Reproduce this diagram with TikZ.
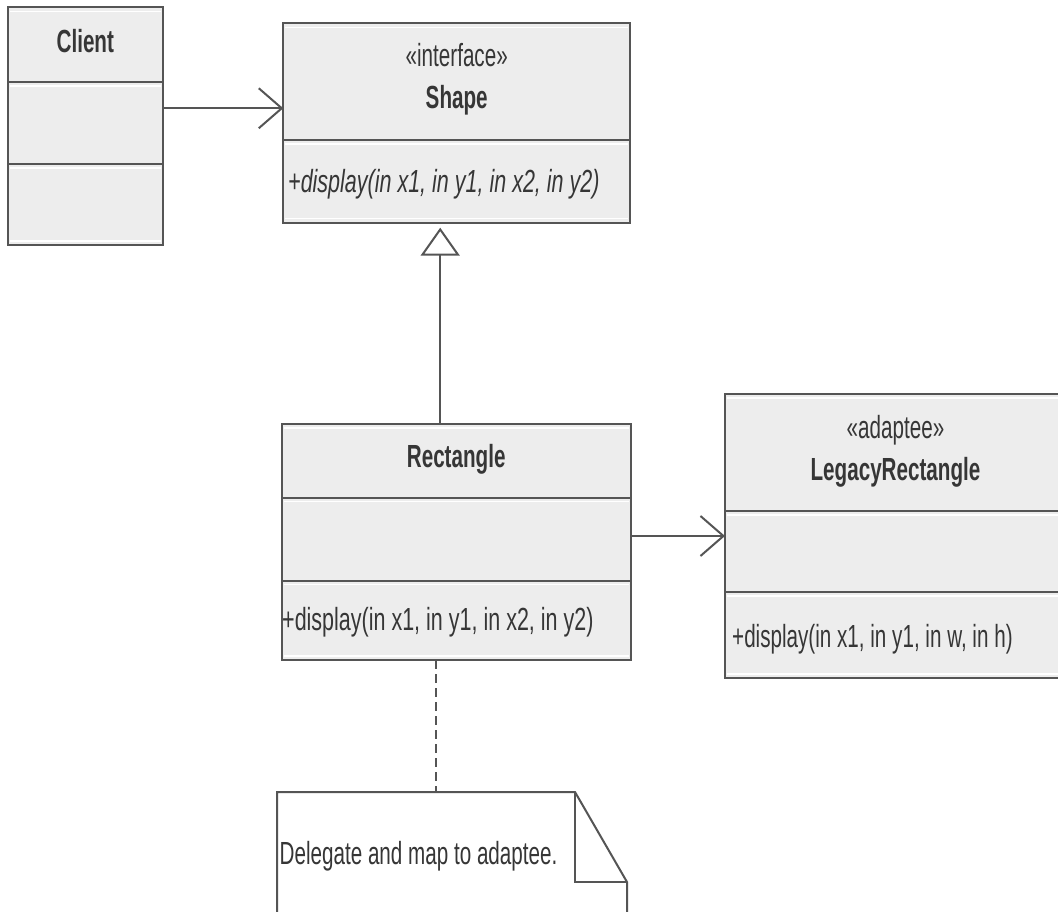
\documentclass[tikz,border=0pt]{standalone}
\usepackage{fontspec}
\setmainfont{Liberation Sans}[FakeStretch=0.645]
\newfontfamily\opfont{Liberation Sans}[FakeStretch=0.672]
\usetikzlibrary{arrows.meta}
\definecolor{umlfill}{HTML}{EDEDED}
\definecolor{umlline}{HTML}{555555}
\definecolor{umltext}{HTML}{363636}

% compartment rule #2 pt below the top of class box #1, with its light edge
\newcommand\umlrule[2]{%
  \draw[divider] ([yshift=-#2pt]#1.north west) -- ([yshift=-#2pt]#1.north east);
  \draw[shine] ([xshift=2pt,yshift=-#2pt-4pt]#1.north west) -- ([xshift=-2pt,yshift=-#2pt-4pt]#1.north east);}
% light edges under the top and over the bottom of class box #1
\newcommand\umledges[1]{%
  \draw[shine] ([xshift=2pt,yshift=-4pt]#1.north west) -- ([xshift=-2pt,yshift=-4pt]#1.north east);
  \draw[shine] ([xshift=2pt,yshift=4pt]#1.south west) -- ([xshift=-2pt,yshift=4pt]#1.south east);}

\begin{document}
\begin{tikzpicture}[x=1pt,y=-1pt,
  box/.style={draw=umlline, fill=umlfill, line width=2pt, rectangle,
    anchor=north west, inner sep=0pt, outer sep=0pt},
  divider/.style={draw=umlline, line width=2pt},
  shine/.style={draw=white, line width=1.2pt},
  txt/.style={anchor=base, inner sep=0pt, text=umltext,
    font=\fontsize{32}{32}\selectfont},
  ctitle/.style={txt, font=\fontsize{32}{32}\selectfont\bfseries},
  member/.style={txt, anchor=base west},
  widemember/.style={member, font=\fontsize{32}{32}\opfont},
  opital/.style={member, font=\fontsize{32}{32}\opfont\itshape},
  assoc/.style={draw=umlline, line width=2pt,
    -{Straight Barb[length=23pt,width=40pt]}},
  realize/.style={draw=umlline, line width=2pt,
    -{Triangle[open,length=28pt,width=39pt,fill=white]}, shorten >=5pt},
  anchorline/.style={draw=umlline, line width=2pt, dash pattern=on 9pt off 5pt},
  notebox/.style={draw=umlline, line width=2pt, line join=miter},
]
\clip (0,0) rectangle (1058,912);
\fill[white] (0,0) rectangle (1058,912);

% class boxes
\node[box, minimum width=155.5pt, minimum height=237.5pt] (client) at (7.5,7.5) {};
\node[box, minimum width=346.7pt, minimum height=199.4pt] (shape) at (283.3,23.3) {};
\node[box, minimum width=349pt, minimum height=236pt] (rect) at (281.7,424) {};
\node[box, minimum width=341pt, minimum height=284pt] (legacy) at (725,394) {};

\umledges{client}
\umledges{shape}
\umledges{rect}
\umledges{legacy}
\umlrule{client}{74.5}
\umlrule{client}{156.5}
\umlrule{shape}{116.7}
\umlrule{rect}{73.7}
\umlrule{rect}{156.7}
\umlrule{legacy}{117}
\umlrule{legacy}{198}

% note with folded corner
\node[anchor=north west, minimum width=350pt, minimum height=138pt,
  inner sep=0pt, outer sep=0pt] (note) at (277,792) {};
\fill[white] (note.south west) -- (note.north west) -- ([xshift=-52pt]note.north east)
  -- ([yshift=-90pt]note.north east) -- (note.south east) -- cycle;
\draw[notebox] (note.south west) -- (note.north west) -- ([xshift=-52pt]note.north east)
  -- ([yshift=-90pt]note.north east) -- (note.south east);
\draw[notebox] ([xshift=-52pt]note.north east) -- ([xshift=-52pt,yshift=-90pt]note.north east)
  -- ([yshift=-90pt]note.north east);

% texts
\node[ctitle] (clientname) at (85.3,53) {Client};
\node[txt] (shapest) at (456.7,67) {«interface»};
\node[ctitle] (shapename) at (456.7,109) {Shape};
\node[opital] (shapeop) at (288,193) {+display(in x1, in y1, in x2, in y2)};
\node[ctitle] (rectname) at (456.2,467) {Rectangle};
\node[widemember] (rectop) at (282,630) {+display(in x1, in y1, in x2, in y2)};
\node[txt] (legst) at (895.5,438) {«adaptee»};
\node[ctitle] (legname) at (895.5,480) {LegacyRectangle};
\node[member] (legop) at (732,647) {+display(in x1, in y1, in w, in h)};
\node[member] (notetext) at (279.5,864) {Delegate and map to adaptee.};

% connectors
\coordinate (ca) at ([yshift=18pt]client.east);
\draw[assoc] (ca) -- (ca -| shape.west);
\coordinate (rb) at ([yshift=6pt]rect.east);
\draw[assoc] (rb) -- (rb -| legacy.west);
\coordinate (ga) at ([xshift=-16pt]rect.north);
\draw[realize] (ga) -- (ga |- shape.south);
\coordinate (da) at ([xshift=-20pt]rect.south);
\draw[anchorline] (da) -- (da |- note.north);
\end{tikzpicture}
\end{document}
